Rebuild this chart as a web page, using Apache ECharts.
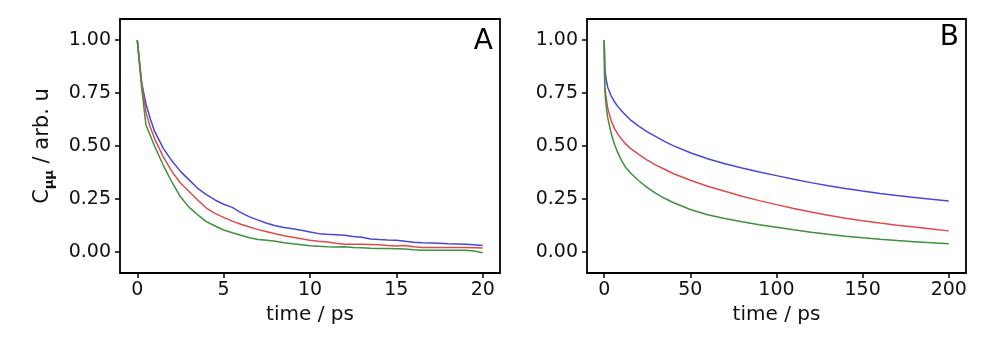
<!DOCTYPE html>
<html>
<head>
<meta charset="utf-8">
<script src="https://cdn.jsdelivr.net/npm/echarts@6/dist/echarts.min.js"></script>
<style>html,body{margin:0;padding:0;background:#fff;}#c{width:1003px;height:338px;}</style>
</head>
<body>
<div id="c"></div>
<script>
// Panel A
const timeA = [0,0.25,0.5,0.75,1,1.5,2,2.5,3,3.5,4,4.5,5,5.5,6,6.5,7,7.5,8,8.5,9,9.5,10,10.5,11,11.5,12,12.5,13,13.5,14,14.5,15,15.5,16,16.5,17,17.5,18,18.5,19,19.5,20];
const blueA = [1.00,0.80,0.70,0.63,0.57,0.49,0.43,0.38,0.34,0.30,0.27,0.245,0.225,0.21,0.185,0.165,0.15,0.135,0.123,0.115,0.109,0.102,0.094,0.086,0.083,0.081,0.078,0.073,0.069,0.061,0.058,0.056,0.055,0.050,0.045,0.043,0.042,0.040,0.038,0.037,0.036,0.034,0.030];
const redA = [1.00,0.80,0.66,0.59,0.535,0.45,0.38,0.325,0.285,0.245,0.207,0.182,0.163,0.145,0.130,0.117,0.105,0.095,0.085,0.076,0.069,0.062,0.055,0.050,0.046,0.040,0.036,0.036,0.036,0.035,0.033,0.030,0.028,0.030,0.024,0.021,0.021,0.020,0.021,0.021,0.020,0.019,0.018];
const greenA = [1.00,0.78,0.60,0.55,0.50,0.41,0.33,0.26,0.21,0.175,0.143,0.122,0.103,0.090,0.078,0.067,0.058,0.055,0.050,0.043,0.038,0.034,0.029,0.026,0.024,0.023,0.024,0.021,0.019,0.017,0.016,0.016,0.015,0.013,0.010,0.008,0.007,0.007,0.008,0.008,0.008,0.004,-0.004];
// Panel B
const timeB = [0,0.3,1,2,4,6,8,10,12.5,15,20,25,30,35,40,50,60,70,80,90,100,110,120,130,140,150,160,170,180,190,200];
const blueB = [1.00,0.875,0.82,0.778,0.737,0.708,0.686,0.667,0.645,0.625,0.594,0.567,0.544,0.522,0.502,0.468,0.440,0.416,0.396,0.377,0.36,0.343,0.327,0.312,0.299,0.287,0.276,0.266,0.257,0.248,0.240];
const redB = [1.00,0.78,0.735,0.68,0.62,0.582,0.555,0.533,0.51,0.49,0.46,0.433,0.41,0.39,0.37,0.338,0.31,0.286,0.263,0.242,0.223,0.205,0.188,0.173,0.159,0.147,0.136,0.126,0.117,0.108,0.099];
const greenB = [1.00,0.77,0.70,0.635,0.56,0.507,0.466,0.432,0.398,0.375,0.336,0.303,0.276,0.253,0.233,0.200,0.175,0.157,0.142,0.128,0.116,0.104,0.093,0.083,0.074,0.066,0.059,0.053,0.048,0.043,0.038];
// Ticks
const xTicksA = [0,5,10,15,20];
const xTicksB = [0,50,100,150,200];
const yTicks = [0,0.25,0.5,0.75,1.0];
const panelLetters = ['A','B'];

const COLORS = {blue:'#4848d4', red:'#e04a4e', green:'#3d913d'};
const FONT = 'DejaVu Sans';
const zip = (t, v) => t.map((x, i) => [x, v[i]]);

function xAxisCfg(idx, min, max, ticks) {
  return {
    type:'value', gridIndex: idx, min, max,
    name:'time / ps', nameLocation:'middle', nameGap: 28,
    nameTextStyle:{fontFamily:FONT, fontSize:20, color:'#111'},
    axisLine:{show:false, onZero:false},
    axisTick:{show:true, inside:false, length:5, customValues: ticks, lineStyle:{color:'#000', width:1.5}},
    axisLabel:{fontFamily:FONT, fontSize:19, color:'#111', margin:8, customValues: ticks},
    splitLine:{show:false}
  };
}
function yAxisCfg(idx, withName) {
  const c = {
    type:'value', gridIndex: idx, min:-0.1, max:1.1,
    axisLine:{show:false, onZero:false},
    axisTick:{show:true, inside:false, length:5, customValues: yTicks, lineStyle:{color:'#000', width:1.5}},
    axisLabel:{fontFamily:FONT, fontSize:19, color:'#111', margin:9, customValues: yTicks,
      formatter: v => v.toFixed(2)},
    splitLine:{show:false}
  };
  if (withName) {
    c.name = '{c|C}{s|μμ}{c| / arb. u}';
    c.nameLocation = 'middle';
    c.nameRotate = 90;
    c.nameGap = 64;
    c.nameTextStyle = {
      fontFamily:FONT, fontSize:20, color:'#111',
      rich:{
        c:{fontFamily:FONT, fontSize:21, color:'#111', lineHeight:26, verticalAlign:'middle'},
        s:{fontFamily:FONT, fontSize:13, color:'#111', fontWeight:'bold', lineHeight:26, verticalAlign:'bottom', padding:[12,0,0,0]}
      }
    };
  }
  return c;
}
function line(name, xi, data, color) {
  return {
    type:'line', name, xAxisIndex: xi, yAxisIndex: xi, data, showSymbol:false, symbol:'none',
    smooth:false, lineStyle:{color, width:1.5}, itemStyle:{color}, animation:false
  };
}

const chart = echarts.init(document.getElementById('c'));
chart.setOption({
  animation:false,
  backgroundColor:'#fff',
  grid:[
    {left:120, top:19, width:380, height:254, show:true, borderColor:'#000', borderWidth:1.8, backgroundColor:'transparent'},
    {left:587, top:19, width:379, height:254, show:true, borderColor:'#000', borderWidth:1.8, backgroundColor:'transparent'}
  ],
  xAxis:[xAxisCfg(0,-1,21,xTicksA), xAxisCfg(1,-10,210,xTicksB)],
  yAxis:[yAxisCfg(0,true), yAxisCfg(1,false)],
  series:[
    line('blueA',0,zip(timeA,blueA),COLORS.blue),
    line('redA',0,zip(timeA,redA),COLORS.red),
    line('greenA',0,zip(timeA,greenA),COLORS.green),
    line('blueB',1,zip(timeB,blueB),COLORS.blue),
    line('redB',1,zip(timeB,redB),COLORS.red),
    line('greenB',1,zip(timeB,greenB),COLORS.green)
  ],
  graphic:[
    {type:'text', x:493, y:42, style:{text:panelLetters[0], fontFamily:FONT, fontSize:28, fill:'#000', textAlign:'right', textVerticalAlign:'middle'}},
    {type:'text', x:959, y:38, style:{text:panelLetters[1], fontFamily:FONT, fontSize:28, fill:'#000', textAlign:'right', textVerticalAlign:'middle'}}
  ]
});
</script>
</body>
</html>
